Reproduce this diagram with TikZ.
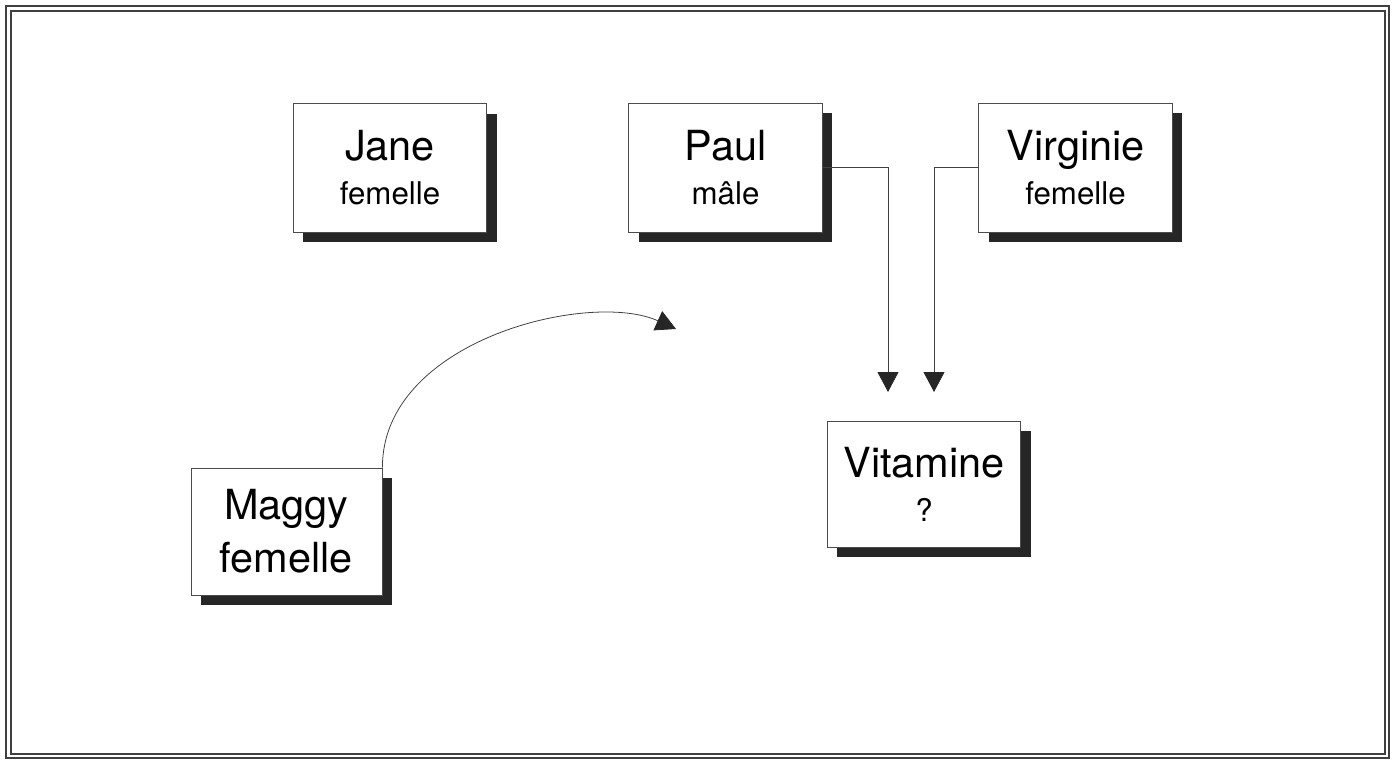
\documentclass[tikz,border=0pt]{standalone}
\usepackage{fontspec}
\setmainfont{TeX Gyre Heros}
\usetikzlibrary{arrows.meta,shadows}

\newcommand{\grand}{\fontsize{23.6}{25}\selectfont}
\newcommand{\petit}{\fontsize{17.8}{25}\selectfont}

\begin{document}
\begin{tikzpicture}[x=0.02cm,y=-0.02cm,
    fiche/.style={draw=black!70, line width=0.5pt, fill=white, align=center,
        font=\grand, minimum width=3.87cm, minimum height=2.58cm, inner sep=0pt,
        drop shadow={shadow xshift=0.2cm, shadow yshift=-0.2cm, fill=black!85, opacity=1}},
    lien/.style={draw=black!75, line width=0.45pt,
        -{Triangle[length=0.4cm, width=0.42cm, color=black!85]}}]
    \useasboundingbox (0,0) rectangle (1399,766);
    % cadre double
    \draw[black!75, line width=0.9pt] (6,6) rectangle (1389,758);
    \draw[black!75, line width=0.9pt] (11,11) rectangle (1385,754);

    % les individus
    \node[fiche] (jane) at (390,168) {Jane\\\petit femelle};
    \node[fiche] (paul) at (725.5,167.5) {Paul\\\petit mâle};
    \node[fiche] (virginie) at (1075.5,167.5) {Virginie\\\petit femelle};
    \node[fiche, minimum width=3.82cm, minimum height=2.54cm] (maggy) at (286.5,531.5)
        {Maggy\\[5pt]femelle};
    \node[fiche, minimum height=2.52cm] (vitamine) at (924,484) {Vitamine\\\petit ?};

    % bouts des fleches
    \coordinate (pointeP) at (888,392);
    \coordinate (pointeV) at (934,392);
    \coordinate (pointeM) at (676,329);

    \draw[lien] (paul.east) -| (pointeP);
    \draw[lien] (virginie.west) -| (pointeV);
    \draw[lien] (maggy.north east) .. controls (382,340) and (590,290) .. (pointeM);
\end{tikzpicture}
\end{document}
